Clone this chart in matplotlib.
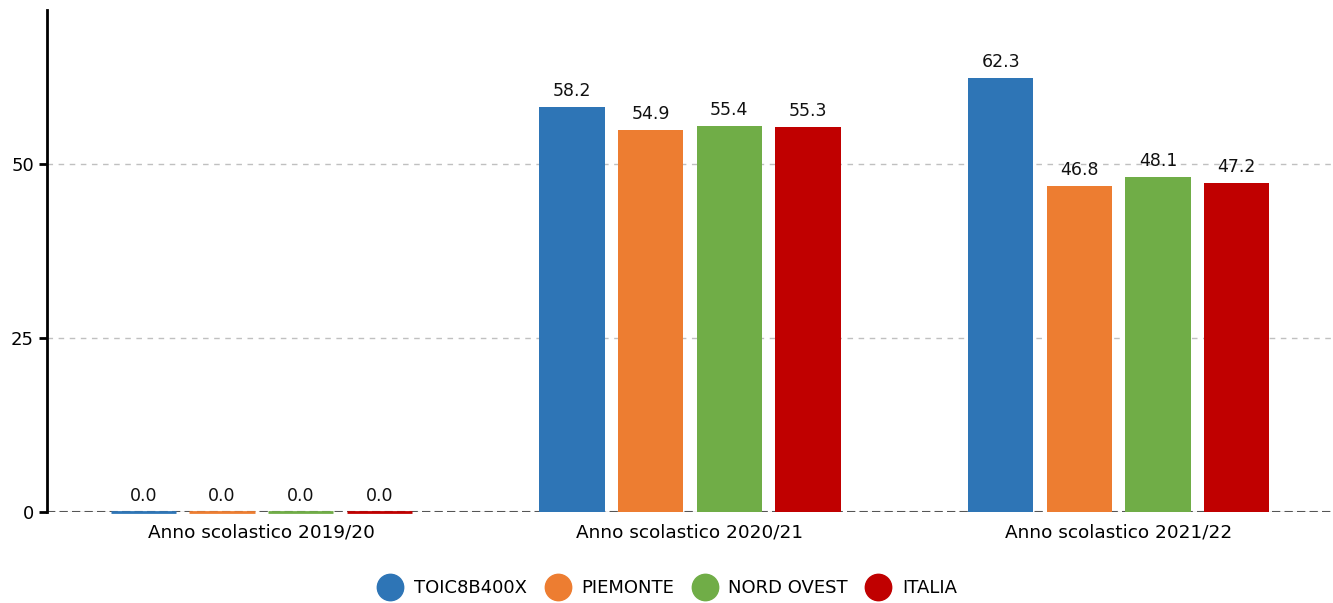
import numpy as np
import matplotlib.pyplot as plt
from matplotlib.lines import Line2D

categories = ["Anno scolastico 2019/20", "Anno scolastico 2020/21", "Anno scolastico 2021/22"]
series_names = ["TOIC8B400X", "PIEMONTE", "NORD OVEST", "ITALIA"]
toic = [0.0, 58.2, 62.3]
piemonte = [0.0, 54.9, 46.8]
nord_ovest = [0.0, 55.4, 48.1]
italia = [0.0, 55.3, 47.2]
colors = ["#2e75b6", "#ed7d31", "#70ad47", "#c00000"]

values = [toic, piemonte, nord_ovest, italia]

fig = plt.figure(figsize=(13.33, 6.03), dpi=100)
ax = fig.add_axes([0.0353, 0.151, 0.9647, 0.8324])

x = np.arange(len(categories))
step = 0.1835
width = 0.152
offsets = (np.arange(len(series_names)) - 1.5) * step

ax.grid(axis="y", color="#c0c0c0", linestyle=(0, (4, 4)), lw=1, zorder=0)
ax.axhline(0, color="#555555", linestyle=(0, (4, 2)), lw=1.5, zorder=2)

for i, (name, vals) in enumerate(zip(series_names, values)):
    xs = x + offsets[i]
    ax.bar(xs, vals, width=width, color=colors[i], zorder=3)
    for xv, v in zip(xs, vals):
        if v == 0:
            ax.plot([xv - width / 2, xv + width / 2], [0, 0], color=colors[i], lw=2,
                    zorder=5, clip_on=False, solid_capstyle="butt")
        ax.annotate(f"{v:.1f}", (xv, v), xytext=(0, 5), textcoords="offset points",
                    ha="center", va="bottom", fontsize=12.5, color="#111111")

ax.set_xlim(-0.5, 2.5)
ax.set_ylim(0, 72.1)
ax.set_yticks([0, 25, 50])
ax.set_xticks(x)
ax.set_xticklabels(categories, fontsize=13.3)
ax.tick_params(axis="x", length=0, pad=8)
ax.tick_params(axis="y", length=6, width=2, labelsize=13, direction="out")

for s in ["top", "right", "bottom"]:
    ax.spines[s].set_visible(False)
ax.spines["left"].set_linewidth(2)
ax.spines["left"].set_color("black")

handles = [Line2D([], [], marker="o", ls="", markersize=19, color=c) for c in colors]
fig.legend(handles, series_names, loc="center", bbox_to_anchor=(0.5, 0.025),
           ncol=4, frameon=False, fontsize=13, handletextpad=0.5, columnspacing=0.9,
           handlelength=1.6)

fig.savefig("out.png", dpi=100)
